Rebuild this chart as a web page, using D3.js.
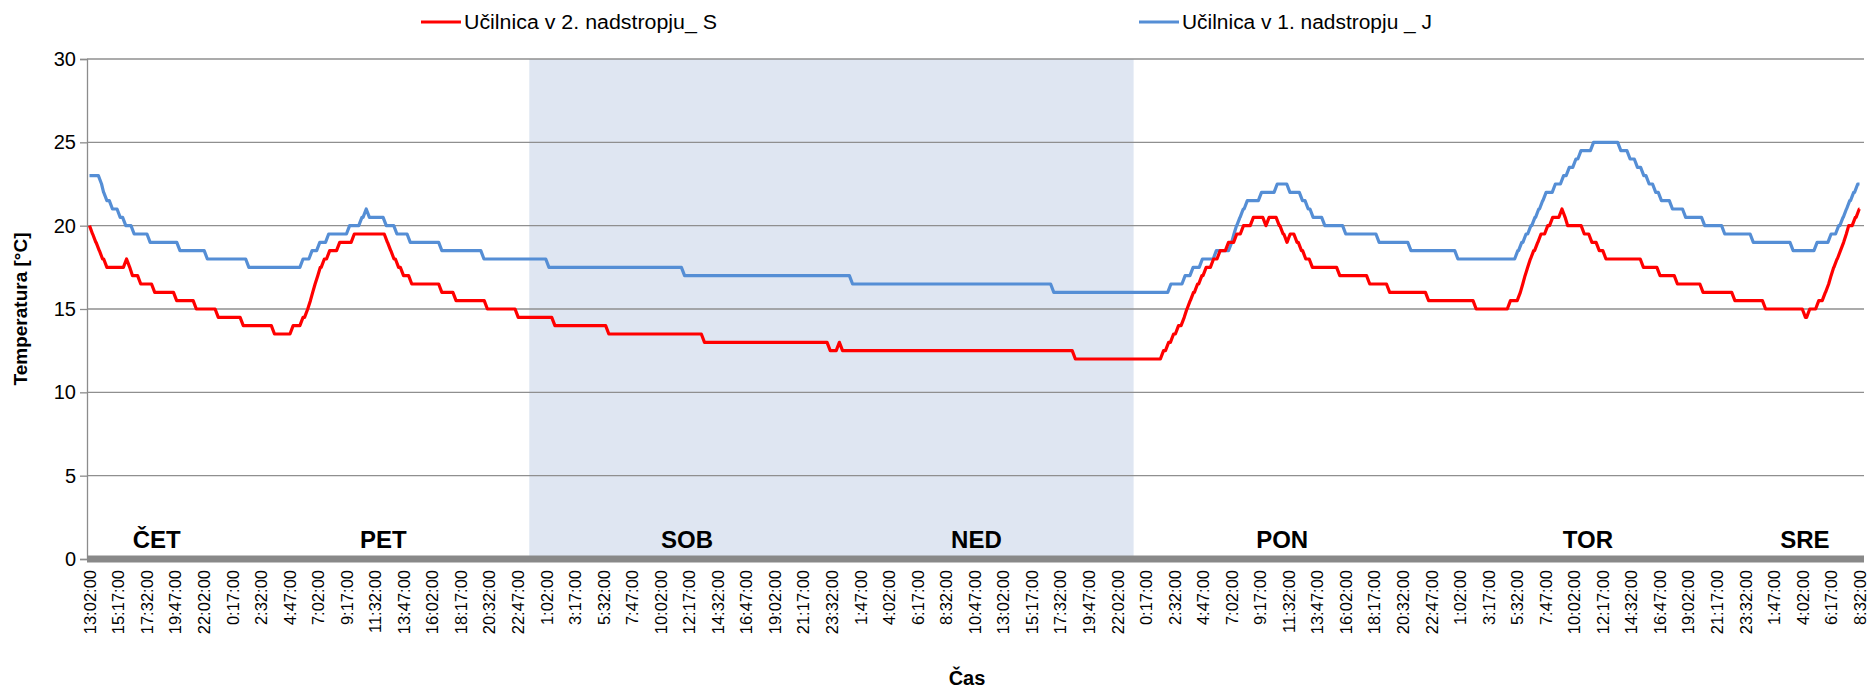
<!DOCTYPE html>
<html><head><meta charset="utf-8">
<script src="https://cdn.jsdelivr.net/npm/d3@7"></script>
<style>
html,body{margin:0;padding:0;background:#fff;}
svg{display:block;}
text{font-family:"Liberation Sans",Arial,sans-serif;fill:#000;}
</style></head>
<body>
<svg id="chart" width="1870" height="689"></svg>
<script>
// ---- DATA (time in hours since Thu 13:02, value in °C; value changes) ----
const seriesNames = ["Učilnica v 2. nadstropju_ S", "Učilnica v 1. nadstropju _ J"];
const redSteps = [[0,20],[0.24,19.5],[0.5,19],[0.77,18.5],[1.03,18],[1.37,17.5],[2.92,18],[3.17,17.5],[3.39,17],[4.04,16.5],[5.14,16],[6.87,15.5],[8.42,15],[10.15,14.5],[12.12,14],[14.58,13.5],[16.05,14],[16.83,14.5],[17.2,15],[17.41,15.5],[17.59,16],[17.78,16.5],[17.99,17],[18.19,17.5],[18.51,18],[18.93,18.5],[19.72,19],[20.87,19.5],[23.48,19],[23.74,18.5],[24.0,18],[24.36,17.5],[24.75,17],[25.4,16.5],[27.77,16],[28.89,15.5],[31.36,15],[33.79,14.5],[36.68,14],[40.93,13.5],[48.47,13],[58.38,12.5],[59.1,13],[59.35,12.5],[77.7,12],[84.65,12.5],[85.05,13],[85.44,13.5],[85.83,14],[86.28,14.5],[86.49,15],[86.75,15.5],[87.01,16],[87.33,16.5],[87.67,17],[88.01,17.5],[88.59,18],[89.11,18.5],[89.77,19],[90.42,19.5],[90.95,20],[91.73,20.5],[92.72,20],[92.97,20.5],[93.77,20],[94.07,19.5],[94.38,19],[94.63,19.5],[95.17,19],[95.52,18.5],[95.86,18],[96.38,17.5],[98.54,17],[100.9,16.5],[102.47,16],[105.54,15.5],[109.29,15],[111.99,15.5],[112.77,16],[112.96,16.5],[113.14,17],[113.35,17.5],[113.56,18],[113.82,18.5],[114.14,19],[114.4,19.5],[114.93,20],[115.32,20.5],[116.05,21],[116.3,20.5],[116.5,20],[117.81,19.5],[118.41,19],[118.99,18.5],[119.52,18],[122.47,17.5],[123.78,17],[125.15,16.5],[127.17,16],[129.68,15.5],[132.1,15],[135.24,14.5],[135.58,15],[136.29,15.5],[136.81,16],[137.07,16.5],[137.26,17],[137.47,17.5],[137.73,18],[138.0,18.5],[138.25,19],[138.46,19.5],[138.65,20],[139.17,20.5],[139.48,21],[139.5,21]];
const blueSteps = [[0,23],[0.95,22.5],[1.11,22],[1.37,21.5],[1.81,21],[2.42,20.5],[2.86,20],[3.52,19.5],[4.78,19],[7.13,18.5],[9.29,18],[12.56,17.5],[16.83,18],[17.54,18.5],[18.15,19],[18.85,19.5],[20.5,20],[21.47,20.5],[21.81,21],[22.06,20.5],[23.39,20],[24.23,19.5],[25.28,19],[27.77,18.5],[31.09,18],[36.21,17.5],[46.9,17],[60.14,16.5],[76.0,16],[85.23,16.5],[86.35,17],[86.98,17.5],[87.71,18],[88.81,18.5],[90.02,19],[90.2,19.5],[90.4,20],[90.67,20.5],[90.93,21],[91.25,21.5],[92.37,22],[93.61,22.5],[94.61,22],[95.6,21.5],[96.05,21],[96.44,20.5],[97.36,20],[99.01,19.5],[101.64,19],[104.15,18.5],[107.85,18],[112.57,18.5],[112.88,19],[113.22,19.5],[113.6,20],[113.92,20.5],[114.22,21],[114.53,21.5],[114.8,22],[115.53,22.5],[116.18,23],[116.63,23.5],[117.15,24],[117.55,24.5],[118.54,25],[120.69,24.5],[121.42,24],[122.0,23.5],[122.5,23],[122.92,22.5],[123.44,22],[123.89,21.5],[124.76,21],[125.8,20.5],[127.3,20],[128.88,19.5],[131.13,19],[134.27,18.5],[136.16,19],[137.26,19.5],[137.86,20],[138.2,20.5],[138.47,21],[138.73,21.5],[139.04,22],[139.36,22.5],[139.5,22.5]];
const xTickLabels = ["13:02:00","15:17:00","17:32:00","19:47:00","22:02:00","0:17:00","2:32:00","4:47:00","7:02:00","9:17:00","11:32:00","13:47:00","16:02:00","18:17:00","20:32:00","22:47:00","1:02:00","3:17:00","5:32:00","7:47:00","10:02:00","12:17:00","14:32:00","16:47:00","19:02:00","21:17:00","23:32:00","1:47:00","4:02:00","6:17:00","8:32:00","10:47:00","13:02:00","15:17:00","17:32:00","19:47:00","22:02:00","0:17:00","2:32:00","4:47:00","7:02:00","9:17:00","11:32:00","13:47:00","16:02:00","18:17:00","20:32:00","22:47:00","1:02:00","3:17:00","5:32:00","7:47:00","10:02:00","12:17:00","14:32:00","16:47:00","19:02:00","21:17:00","23:32:00","1:47:00","4:02:00","6:17:00","8:32:00"];
const xTickStepHours = 2.25;
const yTicks = [0,5,10,15,20,25,30];
const dayLabels = ["ČET","PET","SOB","NED","PON","TOR","SRE"];
const dayLabelHours = [5.3,23.15,47.1,69.9,94.0,118.1,135.2];
const weekendBand = [34.66, 82.29];
const sampleHours = 0.25;

// ---- LAYOUT ----
const L = 87, R = 1864, T = 59, B = 559;
const svg = d3.select("#chart");
const x = d3.scaleLinear().domain([0, 139.5]).range([89.5, 1859.5]);
const y = d3.scaleLinear().domain([0, 30]).range([B, T]);

// weekend shading
svg.append("rect")
  .attr("x", x(weekendBand[0])).attr("y", y(30))
  .attr("width", x(weekendBand[1]) - x(weekendBand[0]))
  .attr("height", y(0) - y(30))
  .attr("fill", "#dfe6f2");

// gridlines
svg.append("g").selectAll("line").data(yTicks.filter(d => d > 0)).join("line")
  .attr("x1", L).attr("x2", R)
  .attr("y1", d => y(d)).attr("y2", d => y(d))
  .attr("stroke", "#8f8f8f").attr("stroke-width", 1.3);

// y axis
const yAxis = d3.axisLeft(y).tickValues(yTicks).tickSize(7).tickPadding(4).tickFormat(d3.format("d"));
const gy = svg.append("g").attr("transform", `translate(${L},0)`).call(yAxis);
gy.select(".domain").attr("stroke", "#8c8c8c").attr("stroke-width", 1.3);
gy.selectAll(".tick line").attr("stroke", "#8c8c8c").attr("stroke-width", 1.3);
gy.selectAll(".tick text").attr("font-size", 20).attr("font-family", "Liberation Sans, Arial, sans-serif").attr("fill", "#000");

// x axis (thick band)
const xTickVals = xTickLabels.map((d, i) => i * xTickStepHours);
const xAxis = d3.axisBottom(x).tickValues(xTickVals).tickSize(0).tickPadding(0)
  .tickFormat((d, i) => xTickLabels[i]);
const gx = svg.append("g").attr("transform", `translate(0,${B})`).call(xAxis);
gx.select(".domain").remove();
gx.insert("rect", ":first-child").attr("x", L).attr("y", -3.5).attr("width", R - L).attr("height", 7).attr("fill", "#898989");
gx.selectAll(".tick text")
  .attr("font-size", 16.5).attr("font-family", "Liberation Sans, Arial, sans-serif").attr("fill", "#000")
  .attr("transform", "rotate(-90)")
  .attr("text-anchor", "end")
  .attr("x", -11).attr("y", 0).attr("dy", "0.35em");

// lines: hold each value until the sample before the change
function expand(steps) {
  const pts = [[steps[0][0], steps[0][1]]];
  for (let i = 1; i < steps.length; i++) {
    const tPrev = steps[i - 1][0], t = steps[i][0];
    if (t - sampleHours > tPrev) pts.push([t - sampleHours, steps[i - 1][1]]);
    pts.push([t, steps[i][1]]);
  }
  return pts;
}
const line = d3.line().x(d => x(d[0])).y(d => y(d[1]));
svg.append("path").datum(expand(blueSteps)).attr("d", line)
  .attr("fill", "none").attr("stroke", "#558ed5").attr("stroke-width", 3.2).attr("stroke-linejoin", "round");
svg.append("path").datum(expand(redSteps)).attr("d", line)
  .attr("fill", "none").attr("stroke", "#ff0000").attr("stroke-width", 3.2).attr("stroke-linejoin", "round");

// day labels
svg.append("g").selectAll("text").data(dayLabels).join("text")
  .attr("x", (d, i) => x(dayLabelHours[i])).attr("y", 548)
  .attr("text-anchor", "middle").attr("font-weight", "bold").attr("font-size", 24)
  .text(d => d);

// axis titles
svg.append("text").attr("transform", `translate(27,309) rotate(-90)`)
  .attr("text-anchor", "middle").attr("font-weight", "bold").attr("font-size", 19)
  .text("Temperatura [°C]");
svg.append("text").attr("x", 967).attr("y", 685)
  .attr("text-anchor", "middle").attr("font-weight", "bold").attr("font-size", 20)
  .text("Čas");

// legend
const legendX = [421, 1139];
const legendTextLen = [253, 250];
const legendColors = ["#ff0000", "#558ed5"];
const lg = svg.append("g").selectAll("g").data(seriesNames).join("g")
  .attr("transform", (d, i) => `translate(${legendX[i]},22)`);
lg.append("line").attr("x1", 0).attr("x2", 40).attr("y1", 0).attr("y2", 0)
  .attr("stroke", (d, i) => legendColors[i]).attr("stroke-width", 3.2);
lg.append("text").attr("x", 43).attr("y", 0).attr("dy", "0.35em")
  .attr("font-size", 20)
  .attr("textLength", (d, i) => legendTextLen[i]).attr("lengthAdjust", "spacingAndGlyphs")
  .text(d => d);
</script>
</body></html>
